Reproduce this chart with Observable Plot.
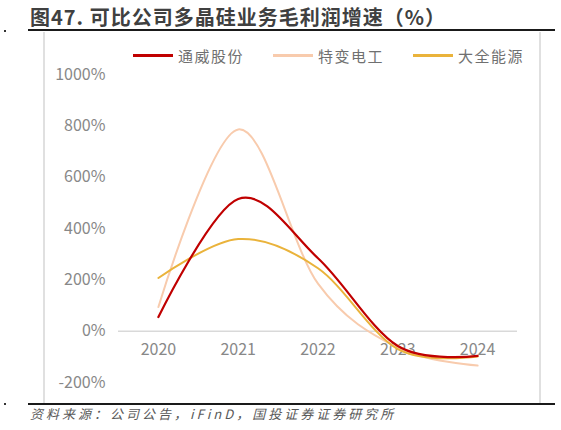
<!DOCTYPE html>
<html>
<head>
<meta charset="utf-8">
<script src="https://cdn.jsdelivr.net/npm/d3@7"></script>
<script src="https://cdn.jsdelivr.net/npm/@observablehq/plot@0.6"></script>
<style>
  html, body { margin: 0; padding: 0; background: #fff; }
  #wrap { position: relative; width: 561px; height: 430px; overflow: hidden; font-family: "Noto Sans CJK SC", "Noto Sans", sans-serif; }
  #title { position: absolute; left: 30px; top: 2px; font-size: 20px; font-weight: bold; color: #404040; letter-spacing: 1px; white-space: nowrap; }
  .rule { position: absolute; left: 28px; width: 527px; height: 2px; background: #1a1a1a; }
  #box { position: absolute; left: 43px; top: 32px; width: 494px; height: 372px; border-left: 2px solid #e0e0e0; border-right: 2px solid #e0e0e0; }
  #chart { position: absolute; left: 0; top: 32px; }
  #legend { position: absolute; left: 133px; top: 45px; display: flex; align-items: center; }
  .item { display: flex; align-items: center; margin-right: 29px; }
  .swatch { width: 40px; height: 3px; margin-right: 5px; }
  .lab { font-size: 15px; color: #707070; letter-spacing: 1.5px; white-space: nowrap; }
  #source { position: absolute; left: 30px; top: 404px; font-size: 13px; font-style: italic; color: #595959; letter-spacing: 3px; white-space: nowrap; }
  .dot { position: absolute; left: 4px; width: 2px; height: 2px; background: #333; }
</style>
</head>
<body>
<div id="wrap">
  <div id="title">图47. 可比公司多晶硅业务毛利润增速（%）</div>
  <div class="dot" style="top:30px"></div>
  <div class="dot" style="top:403px"></div>
  <div id="box"></div>
  <div id="chart"></div>
  <div class="rule" style="top:29px"></div>
  <div class="rule" style="top:403px"></div>
  <div id="legend"></div>
  <div id="source">资料来源：公司公告，iFinD，国投证券证券研究所</div>
</div>
<script>
const years = [2020, 2021, 2022, 2023, 2024];
const seriesNames = ["通威股份", "特变电工", "大全能源"];
const tongwei = [55, 515, 284, -58, -96];
const tebian = [94, 786, 185, -65, -134];
const daquan = [207, 359, 245, -70, -99];
const colors = ["#C00000", "#F8CBAD", "#EAB33B"];
const yTicks = [-200, 0, 200, 400, 600, 800, 1000];

const values = [tongwei, tebian, daquan];
const data = [];
seriesNames.forEach((name, i) => {
  years.forEach((yr, j) => data.push({series: name, year: yr, value: values[i][j]}));
});

const fontFamily = '"Noto Sans CJK SC", "Noto Sans", sans-serif';

const plot = Plot.plot({
  width: 561,
  height: 372,
  marginLeft: 118,
  marginRight: 44,
  marginTop: 42,
  marginBottom: 22,
  style: {fontFamily, background: "transparent", overflow: "visible"},
  x: {type: "linear", domain: [2019.5, 2024.5], axis: null},
  y: {domain: [-200, 1000], axis: null},
  color: {domain: seriesNames, range: colors},
  marks: [
    Plot.ruleY([0], {stroke: "#d9d9d9", strokeWidth: 1.5}),
    Plot.text(yTicks, {x: 2019.5, y: d => d, text: d => d + "%", textAnchor: "end", dx: -13, fontSize: 16, fill: "#888"}),
    Plot.text(years, {x: d => d, y: 0, text: d => String(d), dy: 19, fontSize: 16, fill: "#888"}),
    Plot.line(data.filter(d => d.series === seriesNames[1]), {x: "year", y: "value", stroke: colors[1], strokeWidth: 2, curve: "cardinal"}),
    Plot.line(data.filter(d => d.series === seriesNames[2]), {x: "year", y: "value", stroke: colors[2], strokeWidth: 2, curve: "cardinal"}),
    Plot.line(data.filter(d => d.series === seriesNames[0]), {x: "year", y: "value", stroke: colors[0], strokeWidth: 2.2, curve: "cardinal"})
  ]
});
document.getElementById("chart").appendChild(plot);

const legend = document.getElementById("legend");
seriesNames.forEach((name, i) => {
  const item = document.createElement("div");
  item.className = "item";
  const sw = document.createElement("div");
  sw.className = "swatch";
  sw.style.background = colors[i];
  const lab = document.createElement("span");
  lab.className = "lab";
  lab.textContent = name;
  item.appendChild(sw);
  item.appendChild(lab);
  legend.appendChild(item);
});
</script>
</body>
</html>
